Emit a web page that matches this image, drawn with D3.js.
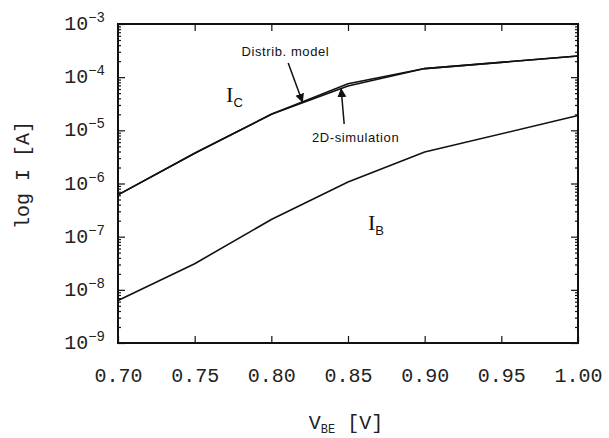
<!DOCTYPE html>
<html>
<head>
<meta charset="utf-8">
<script src="https://cdn.jsdelivr.net/npm/d3@7"></script>
<style>
  body { margin: 0; background: #fff; }
  svg { display: block; }
  .tick line { stroke: #111; stroke-width: 1.2; }
  .tick text { font-family: "Liberation Mono", "Courier New", monospace; font-size: 20px; fill: #222; }
</style>
</head>
<body>
<div id="chart"></div>
<script>
// data
const vbe     = [0.70, 0.75, 0.80, 0.85, 0.90, 1.00];
const icModel = [6.1e-7, 3.7e-6, 2.0e-5, 7.5e-5, 1.45e-4, 2.5e-4];   // distributed model
const icSim   = [6.1e-7, 3.7e-6, 2.0e-5, 6.8e-5, 1.45e-4, 2.5e-4];   // 2D simulation
const ib      = [6.3e-9, 3.1e-8, 2.1e-7, 1.07e-6, 3.9e-6, 1.9e-5];
const xTicks  = [0.70, 0.75, 0.80, 0.85, 0.90, 0.95, 1.00];
const yExps   = [-9, -8, -7, -6, -5, -4, -3];

// dimensions
var W = 609, H = 438;
var margin = {top: 24, right: 31, bottom: 95, left: 118},
    width = W - margin.left - margin.right,
    height = H - margin.top - margin.bottom;

let svg = d3.select("#chart")
    .append("svg")
    .attr("width", W)
    .attr("height", H);

let g = svg.append("g")
    .attr("transform", "translate(" + margin.left + "," + margin.top + ")");

// scales
var x = d3.scaleLinear().domain([0.70, 1.00]).range([0, width]);
var y = d3.scaleLog().domain([1e-9, 1e-3]).range([height, 0]);

var majors = yExps.map(e => Math.pow(10, e));
var minors = [];
yExps.slice(0, -1).forEach(e => {
    for (let k = 2; k <= 9; k++) minors.push(k * Math.pow(10, e));
});

// minor + major ticks, left and right, pointing inward
g.append("g").call(d3.axisLeft(y).tickValues(minors).tickSize(-3).tickFormat(""))
    .call(s => s.select(".domain").remove());
g.append("g").call(d3.axisLeft(y).tickValues(majors).tickSize(-7).tickFormat(""))
    .call(s => s.select(".domain").remove());
g.append("g").attr("transform", "translate(" + width + ",0)")
    .call(d3.axisRight(y).tickValues(minors).tickSize(-3).tickFormat(""))
    .call(s => s.select(".domain").remove());
g.append("g").attr("transform", "translate(" + width + ",0)")
    .call(d3.axisRight(y).tickValues(majors).tickSize(-7).tickFormat(""))
    .call(s => s.select(".domain").remove());

// x ticks top and bottom
g.append("g")
    .call(d3.axisTop(x).tickValues(xTicks).tickSize(-7).tickFormat(""))
    .call(s => s.select(".domain").remove());
g.append("g")
    .attr("transform", "translate(0," + height + ")")
    .call(d3.axisBottom(x).tickValues(xTicks).tickSizeInner(-7).tickSizeOuter(0)
        .tickPadding(25).tickFormat(d3.format(".2f")))
    .call(s => s.select(".domain").remove());

// frame
g.append("rect")
    .attr("x", 0).attr("y", 0)
    .attr("width", width).attr("height", height)
    .attr("fill", "none")
    .attr("stroke", "#111")
    .attr("stroke-width", 2);

// y tick labels 10^n
var ylab = g.append("g");
yExps.forEach(e => {
    let t = ylab.append("text")
        .attr("x", -13)
        .attr("y", y(Math.pow(10, e)) + 6)
        .attr("text-anchor", "end")
        .style("font-family", "'Liberation Mono', 'Courier New', monospace")
        .style("font-size", "20px")
        .style("fill", "#222");
    t.append("tspan").text("10");
    t.append("tspan").attr("dy", -8).style("font-size", "14px").text("\u2212" + (-e));
});

// curves
const line = d3.line()
    .x((d, i) => x(vbe[i]))
    .y(d => y(d));

[icSim, icModel, ib].forEach(s => {
    g.append("path")
        .datum(s)
        .attr("d", line)
        .attr("fill", "none")
        .attr("stroke", "#111")
        .attr("stroke-width", 1.6);
});

// arrow marker
svg.append("defs").append("marker")
    .attr("id", "arr")
    .attr("viewBox", "0 0 10 10")
    .attr("refX", 10).attr("refY", 5)
    .attr("markerWidth", 9).attr("markerHeight", 13)
    .attr("markerUnits", "userSpaceOnUse")
    .attr("orient", "auto")
    .append("path")
    .attr("d", "M0,0 L10,5 L0,10 z")
    .attr("fill", "#111");

// annotations
var annoFont = "'Liberation Sans Narrow', 'Liberation Sans', sans-serif";
g.append("text")
    .attr("x", x(0.7805)).attr("y", 32)
    .style("font-family", annoFont)
    .style("font-size", "13px").style("letter-spacing", "0.6px").style("fill", "#111")
    .text("Distrib. model");
g.append("line")
    .attr("x1", x(0.811)).attr("y1", 39)
    .attr("x2", x(0.8205)).attr("y2", y(2.9e-5) - 3)
    .attr("stroke", "#111").attr("stroke-width", 1.5)
    .attr("marker-end", "url(#arr)");

g.append("text")
    .attr("x", x(0.8265)).attr("y", 118)
    .style("font-family", annoFont)
    .style("font-size", "13px").style("letter-spacing", "0.6px").style("fill", "#111")
    .text("2D-simulation");
g.append("line")
    .attr("x1", x(0.8475)).attr("y1", 100)
    .attr("x2", x(0.8455)).attr("y2", y(6.5e-5) + 1)
    .attr("stroke", "#111").attr("stroke-width", 1.5)
    .attr("marker-end", "url(#arr)");

// curve labels
function sublabel(px, py, main, sub) {
    let t = g.append("text")
        .attr("x", px).attr("y", py)
        .style("fill", "#111");
    t.append("tspan").style("font-family", "'Liberation Serif', serif").style("font-size", "22px").text(main);
    t.append("tspan").attr("dy", 5).style("font-family", "'Liberation Sans', sans-serif").style("font-size", "13px").text(sub);
}
sublabel(x(0.7705), 78, "I", "C");
sublabel(x(0.863), 206, "I", "B");

// axis titles
svg.append("text")
    .attr("transform", "translate(29,175) rotate(-90)")
    .attr("text-anchor", "middle")
    .style("font-family", "'Liberation Mono', 'Courier New', monospace")
    .style("font-size", "20px").style("fill", "#222")
    .text("log I [A]");

let xt = svg.append("text")
    .attr("x", margin.left + width / 2 - 2)
    .attr("y", 429)
    .attr("text-anchor", "middle")
    .style("font-family", "'Liberation Mono', 'Courier New', monospace")
    .style("font-size", "20px").style("fill", "#222");
xt.append("tspan").text("V");
xt.append("tspan").attr("dy", 4).style("font-size", "12px").text("BE");
xt.append("tspan").attr("dy", -4).text(" [V]");
</script>
</body>
</html>
